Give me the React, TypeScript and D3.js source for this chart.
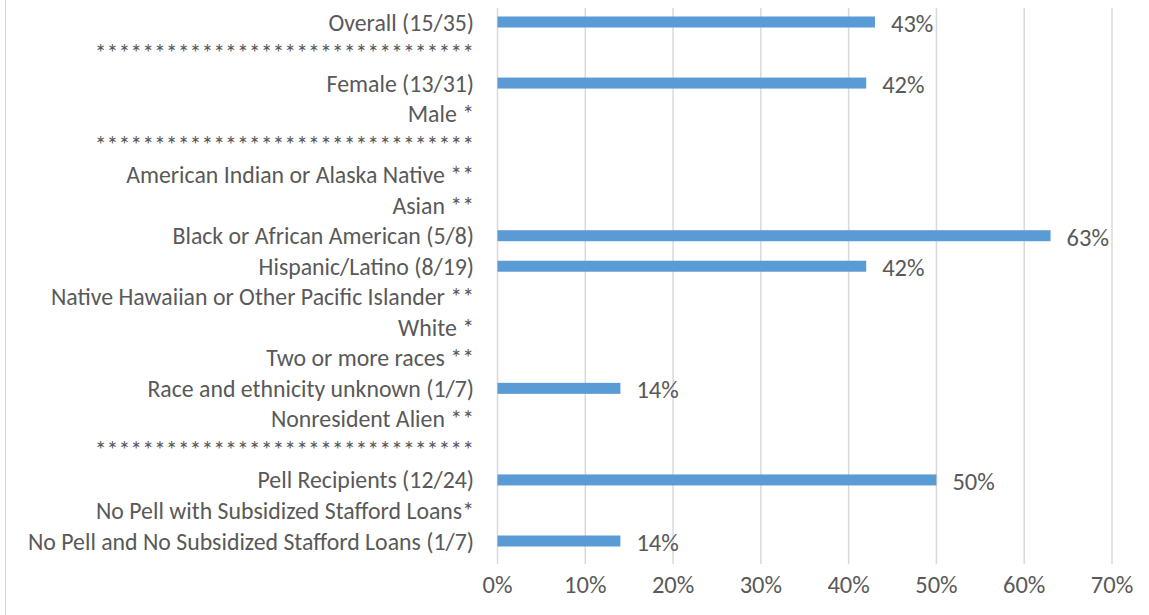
import React from "react";
import * as d3 from "d3";

const categories: string[] = [
  "Overall (15/35)",
  "********************************",
  "Female (13/31)",
  "Male *",
  "********************************",
  "American Indian or Alaska Native **",
  "Asian **",
  "Black or African American (5/8)",
  "Hispanic/Latino (8/19)",
  "Native Hawaiian or Other Pacific Islander **",
  "White *",
  "Two or more races **",
  "Race and ethnicity unknown (1/7)",
  "Nonresident Alien **",
  "********************************",
  "Pell Recipients (12/24)",
  "No Pell with Subsidized Stafford Loans*",
  "No Pell and No Subsidized Stafford Loans (1/7)",
];

const values: (number | null)[] = [
  0.43, null, 0.42, null, null, null, null, 0.63, 0.42, null, null, null, 0.14, null, null, 0.5, null, 0.14,
];

const ticks: number[] = [0, 0.1, 0.2, 0.3, 0.4, 0.5, 0.6, 0.7];

const W = 1149;
const H = 615;
const FONT = "Carlito, Calibri, Lato, 'Open Sans', sans-serif";
const TEXT = "#595959";

export default function App() {
  const x = d3.scaleLinear().domain([0, 0.7]).range([497.5, 1112]);
  const y = d3
    .scalePoint<string>()
    .domain(categories.map((_, i) => String(i)))
    .range([22, 541]);
  const fmt = d3.format(".0%");
  const barH = 11;

  return (
    <svg
      width={W}
      height={H}
      style={{ position: "absolute", left: 0, top: 0, background: "#fff" }}
      fontFamily={FONT}
    >
      <rect x={0} y={0} width={W} height={H} fill="#fff" />
      <line x1={5.5} x2={5.5} y1={0} y2={H} stroke="#d9d9d9" strokeWidth={1} />
      {ticks.map((t) => (
        <g key={t}>
          <line x1={x(t)} x2={x(t)} y1={8} y2={564} stroke="#d9d9d9" strokeWidth={1.5} />
          <text x={x(t)} y={585} textAnchor="middle" dominantBaseline="central" fontSize={24.5} fill={TEXT}>
            {fmt(t)}
          </text>
        </g>
      ))}
      {categories.map((c, i) => {
        const cy = y(String(i)) as number;
        const v = values[i];
        return (
          <g key={i}>
            <text x={474} y={cy} textAnchor="end" dominantBaseline="central" fontSize={23.8} fill={TEXT}>
              {c}
            </text>
            {v !== null && (
              <>
                <rect x={x(0)} y={cy - barH / 2} width={x(v) - x(0)} height={barH} fill="#5b9bd5" />
                <text x={x(v) + 16} y={cy + 2} dominantBaseline="central" fontSize={24.5} fill={TEXT}>
                  {fmt(v)}
                </text>
              </>
            )}
          </g>
        );
      })}
    </svg>
  );
}
